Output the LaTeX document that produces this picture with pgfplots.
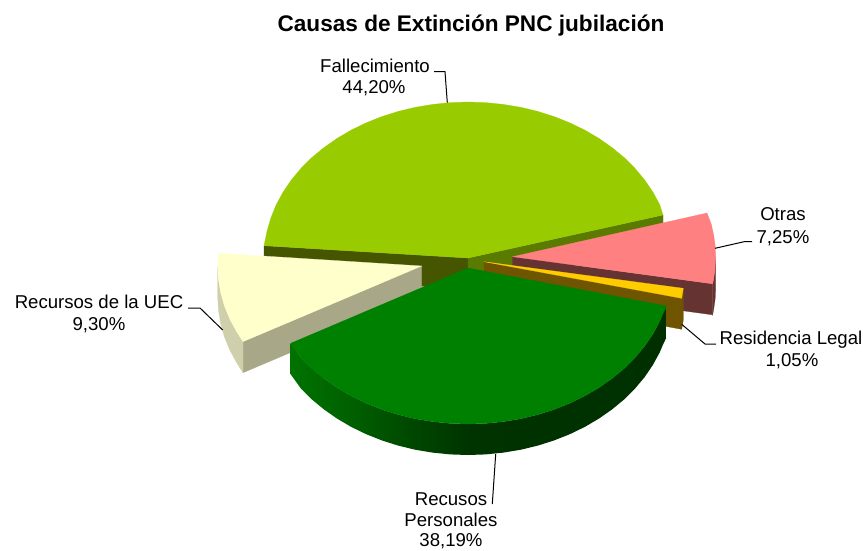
\documentclass[border=0pt]{standalone}
\usepackage{fontspec}
\setmainfont{Liberation Sans}
\usepackage{pgfplots}
\pgfplotsset{compat=1.18}
\definecolor{cLime}{HTML}{99CC00}
\definecolor{cLimeL}{HTML}{465500}
\definecolor{cLimeR}{HTML}{5A7A00}
\definecolor{cPink}{HTML}{FF8080}
\definecolor{cPinkW}{HTML}{663333}
\definecolor{cGold}{HTML}{FFCC00}
\definecolor{cGoldW}{HTML}{6F5500}
\definecolor{cCream}{HTML}{FFFFCC}
\definecolor{cCreamF}{HTML}{A8A888}
\definecolor{cCreamO}{HTML}{CFCFAC}
\definecolor{cGreen}{HTML}{008000}
\definecolor{gwA}{HTML}{007200}
\definecolor{gwB}{HTML}{006000}
\definecolor{gwC}{HTML}{004500}
\definecolor{gwD}{HTML}{003300}
\definecolor{gwE}{HTML}{003000}
\pgfdeclarehorizontalshading{greenwall}{100bp}{color(0bp)=(gwA);color(25bp)=(gwA);color(33bp)=(gwB);color(42bp)=(gwC);color(49bp)=(gwD);color(75bp)=(gwE);color(100bp)=(gwE)}
\newcommand\poly[2]{\addplot[fill=#1,draw=#1,line width=0.25pt,forget plot] coordinates {#2} -- cycle;}
\newcommand\lead[1]{\addplot[black,line width=1pt,forget plot] coordinates {#1};}
\newcommand\lab[3]{\node[anchor=base,inner sep=0pt,font=\fontsize{18.6}{22}\selectfont] at (axis cs:#1,#2) {#3};}
\begin{document}
\begin{tikzpicture}
\clip (0,0) rectangle (863pt,550pt);
\begin{axis}[at={(0,0)},anchor=south west,scale only axis,width=863pt,height=550pt,
  xmin=0,xmax=863,ymin=0,ymax=550,y dir=reverse,hide axis,clip=false]
% Fallecimiento walls
\poly{cLimeL}{(264,245.7)(468,258)(468,289)(264,276.7)}
\poly{cLimeR}{(468,258)(663,215)(663,246)(468,289)}
% Fallecimiento top
\poly{cLime}{(468,258)(264,245.7)(267.1,230.9)(271,217.6)(276.3,204.6)(283.1,192.1)(291.3,180)(300.9,168.5)(311.7,157.7)(323.8,147.7)(336.9,138.5)(351,130.2)(366,122.9)(381.8,116.6)(398.2,111.4)(415.2,107.3)(432.6,104.4)(450.2,102.6)(468,102)(485.8,102.6)(503.4,104.4)(520.8,107.3)(537.8,111.4)(554.2,116.6)(570,122.9)(585,130.2)(599.1,138.5)(612.2,147.7)(624.3,157.7)(635.1,168.5)(644.7,180)(652.9,192.1)(659.7,204.6)(663,215)}
% Otras
\poly{cPinkW}{(512.7,256.7)(712.6,283.8)(712.6,314.8)(512.7,287.7)}
\poly{cPinkW}{(715.7,256.7)(715.2,267.6)(713.7,278.4)(712.6,283.8)(712.6,314.8)(713.7,309.4)(715.2,298.6)(715.7,287.7)}
\poly{cPink}{(512.7,256.7)(707,213)(711.3,224.3)(713.7,235)(715.2,245.8)(715.7,256.7)(715.2,267.6)(713.7,278.4)(712.6,283.8)}
% Recursos de la UEC
\poly{cCreamF}{(421.7,266)(243,341.6)(243,372.7)(421.7,297)}
\poly{cCreamO}{(217.7,266)(218.5,279.6)(220.8,293.1)(224.6,306.4)(230,319.4)(236.8,331.9)(243,341.6)(243,372.7)(236.8,362.9)(230,350.4)(224.6,337.4)(220.8,324.1)(218.5,310.6)(217.7,297)}
\poly{cCream}{(421.7,266)(218.4,253.2)(217.7,266)(218.5,279.6)(220.8,293.1)(224.6,306.4)(230,319.4)(236.8,331.9)(243,341.6)}
% Residencia Legal
\poly{cGoldW}{(484,261.7)(681.7,298.3)(683.3,288.3)(683.3,320)(681.7,329.3)(484,292.7)}
\poly{cGold}{(484,261.7)(683.3,288.3)(681.7,298.3)}
% Recusos Personales wall
\addplot[shade,shading=greenwall,draw=none,forget plot] coordinates {(290.7,343.3)(300.9,357.5)(311.7,368.3)(323.8,378.3)(336.9,387.5)(351,395.8)(366,403.1)(381.8,409.4)(398.2,414.6)(415.2,418.7)(432.6,421.6)(450.2,423.4)(468,424)(485.8,423.4)(503.4,421.6)(520.8,418.7)(537.8,414.6)(554.2,409.4)(570,403.1)(585,395.8)(599.1,387.5)(612.2,378.3)(624.3,368.3)(635.1,357.5)(644.7,346)(652.9,333.9)(659.7,321.4)(663,313.6)(666.7,306)
(666.7,337)(663,344.6)(659.7,352.4)(652.9,364.9)(644.7,377)(635.1,388.5)(624.3,399.3)(612.2,409.3)(599.1,418.5)(585,426.8)(570,434.1)(554.2,440.4)(537.8,445.6)(520.8,449.7)(503.4,452.6)(485.8,454.4)(468,455)(450.2,454.4)(432.6,452.6)(415.2,449.7)(398.2,445.6)(381.8,440.4)(366,434.1)(351,426.8)(336.9,418.5)(323.8,409.3)(311.7,399.3)(300.9,388.5)(290.7,374.3)} -- cycle;
% Recusos Personales top
\poly{cGreen}{(468,268)(290.7,343.3)(300.9,357.5)(311.7,368.3)(323.8,378.3)(336.9,387.5)(351,395.8)(366,403.1)(381.8,409.4)(398.2,414.6)(415.2,418.7)(432.6,421.6)(450.2,423.4)(468,424)(485.8,423.4)(503.4,421.6)(520.8,418.7)(537.8,414.6)(554.2,409.4)(570,403.1)(585,395.8)(599.1,387.5)(612.2,378.3)(624.3,368.3)(635.1,357.5)(644.7,346)(652.9,333.9)(659.7,321.4)(663,313.6)(666.7,306)}
% leaders
\lead{(434,71.7)(445,71.7)(447.3,102.7)}
\lead{(715,248.3)(745,241.5)(752,241.5)}
\lead{(188,308)(200,308)(222.7,330)}
\lead{(681.7,324.3)(705,344)(716,344)}
\lead{(495.7,454)(492.3,504)}
% text
\node[anchor=base,inner sep=0pt,font=\fontsize{22.6}{26}\selectfont\bfseries] at (axis cs:471,31.5) {Causas de Extinción PNC jubilación};
\lab{375}{72}{Fallecimiento}
\lab{374}{93}{44,20\%}
\lab{783}{220}{Otras}
\lab{783}{243}{7,25\%}
\lab{99}{308}{Recursos de la UEC}
\lab{99}{330}{9,30\%}
\lab{791}{344}{Residencia Legal}
\lab{792}{366}{1,05\%}
\lab{451}{505.7}{Recusos}
\lab{451}{526.5}{Personales}
\lab{451}{546.8}{38,19\%}
\end{axis}
\end{tikzpicture}
\end{document}
